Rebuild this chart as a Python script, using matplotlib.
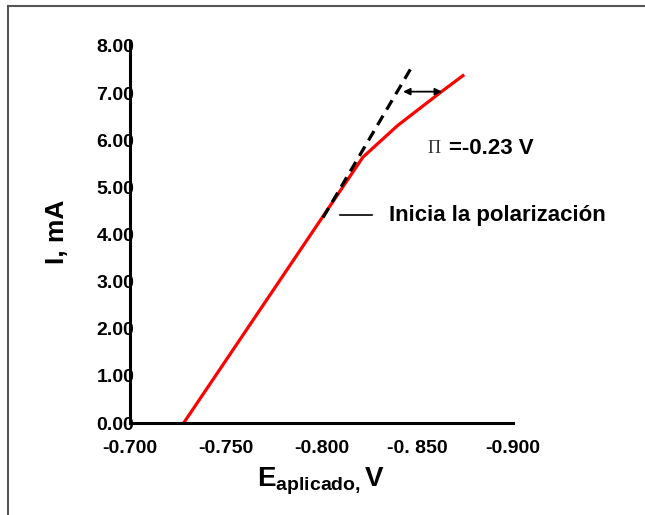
import matplotlib
matplotlib.use("Agg")
import matplotlib.pyplot as plt
from matplotlib.lines import Line2D

plt.rcParams['font.family'] = ['Liberation Sans', 'DejaVu Sans']
plt.rcParams['font.weight'] = 'bold'
plt.rcParams['axes.labelweight'] = 'bold'
plt.rcParams['mathtext.fontset'] = 'custom'
plt.rcParams['mathtext.rm'] = 'Liberation Sans:bold'
plt.rcParams['mathtext.bf'] = 'Liberation Sans:bold'

# curva medida (E aplicado en V, I en mA)
e_curve = [-0.728, -0.8216, -0.8397, -0.862, -0.8745]
i_curve = [0.0, 5.64, 6.31, 7.01, 7.39]

# extrapolacion lineal (discontinua)
e_ext = [-0.8008, -0.8475]
i_ext = [4.36, 7.58]

# flecha de sobrepotencial
e_arrow = [-0.8426, -0.8629]
i_arrow = 7.03

xticks = [-0.700, -0.750, -0.800, -0.850, -0.900]
xticklabels = ['-0.700', '-0.750', '-0.800', '-0. 850', '-0.900']
yticks = [0, 1, 2, 3, 4, 5, 6, 7, 8]
yticklabels = ['%.2f' % v for v in yticks]

fig = plt.figure(figsize=(6.45, 5.15), dpi=100)
ax = fig.add_axes([0.2016, 0.1786, 0.5938, 0.7414])

ax.plot(e_curve, i_curve, color='#ff0000', lw=2.3, solid_capstyle='butt')
ax.plot(e_ext, i_ext, color='black', lw=2.3, ls=(0, (3.4, 2.2)))
ax.annotate('', xy=(e_arrow[0], i_arrow), xytext=(e_arrow[1], i_arrow),
            arrowprops=dict(arrowstyle='<|-|>', color='black', lw=1.3,
                            mutation_scale=10, shrinkA=0, shrinkB=0))

# marca "Inicia la polarización"
ax.plot([-0.8096, -0.8262], [4.41, 4.41], color='black', lw=1.2)
ax.text(-0.835, 4.41, 'Inicia la polarización', fontsize=16, fontweight='bold',
        ha='left', va='center')

ax.text(-0.8553, 5.83, 'Π', family='Liberation Serif', fontsize=13,
        fontweight='normal', ha='left', va='center', color='#333333')
ax.text(-0.8668, 5.83, '=-0.23 V', fontsize=16, fontweight='bold',
        ha='left', va='center')

ax.set_xlim(-0.700, -0.900)
ax.set_ylim(0, 8.1)
ax.set_xticks(xticks)
ax.set_xticklabels(xticklabels, fontsize=14, fontweight='bold')
ax.set_yticks(yticks)
ax.set_yticklabels(yticklabels, fontsize=14, fontweight='bold')
ax.tick_params(axis='x', length=0, pad=12)
ax.tick_params(axis='y', length=0, pad=-3)

for s in ['top', 'right']:
    ax.spines[s].set_visible(False)
for s in ['left', 'bottom']:
    ax.spines[s].set_linewidth(2.2)

ax.set_xlabel(r'$\mathrm{E}_{\mathrm{aplicado,}}$V', fontsize=20,
              fontweight='bold', labelpad=6)
ax.set_ylabel('I, mA', fontsize=19, fontweight='bold', labelpad=20)

# marco de la imagen (solo izquierda y arriba)
fig.add_artist(Line2D([8 / 645, 8 / 645], [0, 1 - 6 / 515], transform=fig.transFigure,
                      color='#555555', lw=1.5))
fig.add_artist(Line2D([8 / 645, 1], [1 - 6 / 515, 1 - 6 / 515], transform=fig.transFigure,
                      color='#555555', lw=1.5))

fig.savefig('out.png', dpi=100)
